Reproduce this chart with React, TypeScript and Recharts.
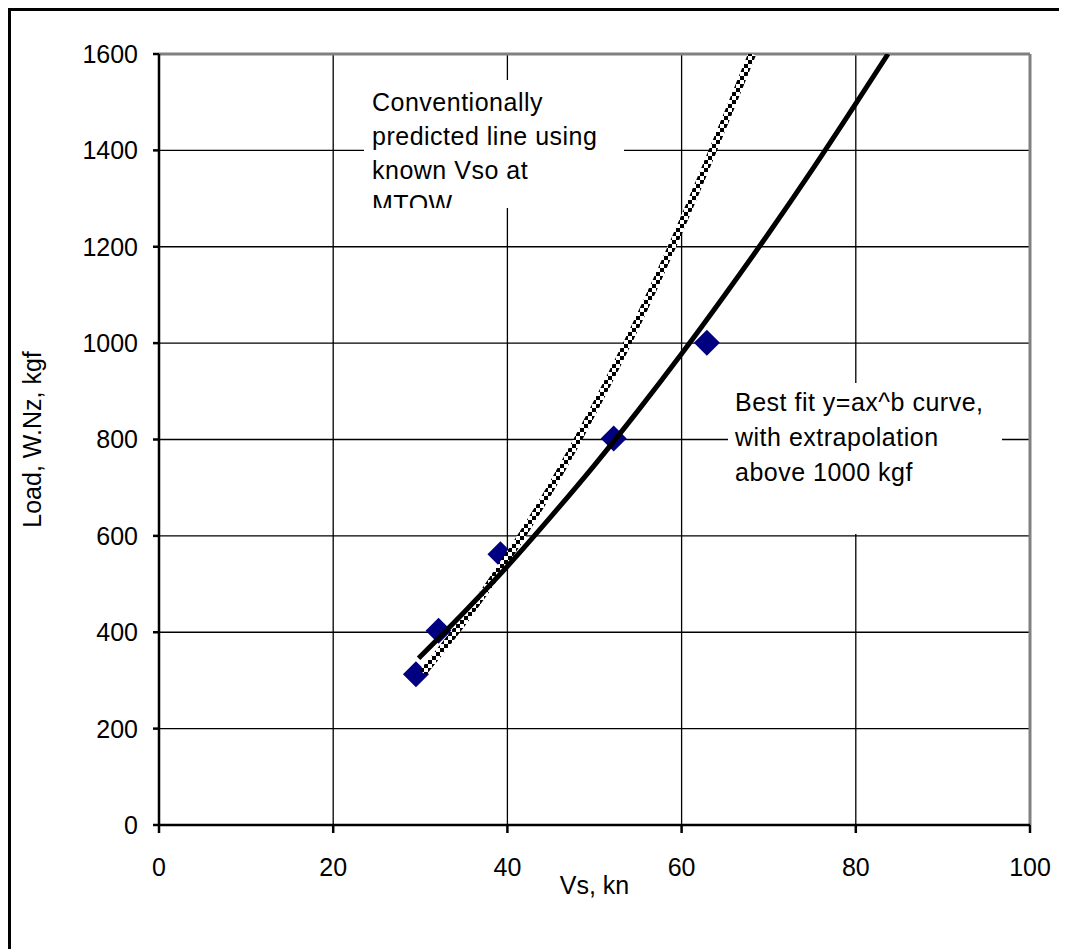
import React from 'react';
import {
  ComposedChart,
  Line,
  Scatter,
  XAxis,
  YAxis,
  CartesianGrid,
  ReferenceLine,
} from 'recharts';

// measured points (Vs in knots, load in kgf)
const measuredVs = [29.5, 32.1, 39.2, 52.2, 62.9];
const measuredLoad = [313, 403, 562, 802, 1001];

// best fit y=ax^b curve
const fitVs = [29.8, 35, 40, 45, 50, 55, 60, 65, 70, 75, 80, 83.7];
const fitLoad = [346, 441, 537, 640, 747, 860, 978, 1101, 1228, 1360, 1497, 1600];

// conventionally predicted line from known Vso at MTOW
const convVs = [30.3, 35, 40, 45, 50, 55, 60, 65, 68.1];
const convLoad = [316, 424, 554, 700, 865, 1046, 1246, 1462, 1600];

const xTicks = [0, 20, 40, 60, 80, 100];
const yTicks = [0, 200, 400, 600, 800, 1000, 1200, 1400, 1600];

const measured = measuredVs.map((x, i) => ({ x, y: measuredLoad[i] }));
const fitCurve = fitVs.map((x, i) => ({ x, y: fitLoad[i] }));
const convCurve = convVs.map((x, i) => ({ x, y: convLoad[i] }));

const FONT = '"Liberation Sans", Arial, sans-serif';

const Diamond = (props: any) => {
  const { cx, cy } = props;
  const r = 13;
  return (
    <polygon
      points={`${cx},${cy - r} ${cx + r},${cy} ${cx},${cy + r} ${cx - r},${cy}`}
      fill="#000080"
    />
  );
};

const boxText: React.CSSProperties = {
  position: 'absolute',
  background: '#fff',
  fontFamily: FONT,
  fontSize: 25,
  letterSpacing: 0.5,
  color: '#000',
  overflow: 'hidden',
  boxSizing: 'border-box',
  whiteSpace: 'nowrap',
};

export default function App() {
  return (
    <div style={{ position: 'relative', width: 1059, height: 941, overflow: 'hidden', background: '#fff' }}>
      <ComposedChart
        width={1059}
        height={941}
        margin={{ top: 46, right: 37, left: 0, bottom: 0 }}
        style={{ fontFamily: FONT }}
      >
        <defs>
          <pattern id="checker" patternUnits="userSpaceOnUse" width="8" height="8">
            <rect x="0" y="0" width="8" height="8" fill="#fff" />
            <rect x="0" y="0" width="4" height="4" fill="#000" />
            <rect x="4" y="4" width="4" height="4" fill="#000" />
          </pattern>
        </defs>
        <CartesianGrid stroke="#000" strokeWidth={1.3} />
        <XAxis
          type="number"
          dataKey="x"
          domain={[0, 100]}
          ticks={xTicks}
          allowDataOverflow
          height={124}
          tickSize={8}
          tickMargin={25}
          axisLine={{ stroke: '#000', strokeWidth: 2.5 }}
          tickLine={{ stroke: '#000', strokeWidth: 2.5 }}
          tick={{ fill: '#000', fontSize: 25 }}
          label={{ value: 'Vs, kn', position: 'insideBottom', offset: 55, fill: '#000', fontSize: 25 }}
        />
        <YAxis
          type="number"
          dataKey="y"
          domain={[0, 1600]}
          ticks={yTicks}
          allowDataOverflow
          width={151}
          tickSize={6}
          tickMargin={15}
          axisLine={{ stroke: '#000', strokeWidth: 2.5 }}
          tickLine={{ stroke: '#000', strokeWidth: 2.5 }}
          tick={{ fill: '#000', fontSize: 25 }}
          label={{
            value: 'Load, W.Nz, kgf',
            angle: -90,
            position: 'insideLeft',
            offset: 24,
            fill: '#000',
            fontSize: 25,
            style: { textAnchor: 'middle' },
          }}
        />
        <ReferenceLine y={1600} stroke="#808080" strokeWidth={3} />
        <ReferenceLine x={100} stroke="#808080" strokeWidth={3} />
        <Scatter data={measured} dataKey="y" shape={Diamond} zIndex={350} isAnimationActive={false} />
        <Line
          data={convCurve}
          dataKey="y"
          type="monotone"
          stroke="url(#checker)"
          strokeWidth={8}
          dot={false}
          isAnimationActive={false}
        />
        <Line
          data={fitCurve}
          dataKey="y"
          type="monotone"
          stroke="#000"
          strokeWidth={5}
          dot={false}
          isAnimationActive={false}
        />
      </ComposedChart>

      <div style={{ ...boxText, left: 356, top: 72, width: 260, height: 128, padding: '5px 0 0 8px', lineHeight: '34px' }}>
        Conventionally
        <br />
        predicted line using
        <br />
        known Vso at
        <br />
        MTOW
      </div>
      <div style={{ ...boxText, left: 720, top: 375, width: 274, height: 151, padding: '2px 0 0 7px', lineHeight: '35px' }}>
        Best fit y=ax^b curve,
        <br />
        with extrapolation
        <br />
        above 1000 kgf
      </div>

      <div
        style={{
          position: 'absolute',
          left: 0,
          top: 0,
          width: 1100,
          height: 1000,
          border: '3px solid #000',
          pointerEvents: 'none',
        }}
      />
    </div>
  );
}
